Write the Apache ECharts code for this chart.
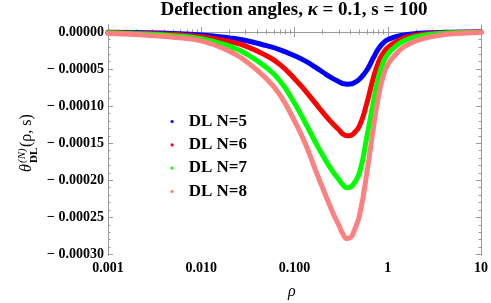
<!DOCTYPE html>
<html><head><meta charset="utf-8">
<script src="https://cdn.jsdelivr.net/npm/echarts@6/dist/echarts.min.js"></script>
<style>html,body{margin:0;padding:0;background:#fff}#c{width:491px;height:303px}</style>
</head><body><div id="c"></div>
<script>
// rho sample points (log axis)
const rho = [0.001,0.002,0.005,0.01,0.02,0.03,0.05,0.07,0.1,0.13,0.17,0.2,0.25,0.3,0.33,0.366,0.4,0.43,0.5,0.6,0.7,0.8,0.9,1,1.2,1.5,2,3,5,10];
const dlN5 = [-0.3e-6,-0.8e-6,-2e-6,-4e-6,-8e-6,-11.5e-6,-18.5e-6,-24e-6,-32e-6,-39e-6,-48e-6,-54e-6,-62e-6,-67e-6,-69.5e-6,-70.5e-6,-70.3e-6,-69e-6,-63.5e-6,-51e-6,-35e-6,-22e-6,-14.5e-6,-10.5e-6,-6.5e-6,-4e-6,-2.2e-6,-1e-6,-0.4e-6,-0.1e-6];
const dlN6 = [-0.8e-6,-1.6e-6,-3.5e-6,-6.5e-6,-13e-6,-19e-6,-32e-6,-44e-6,-63e-6,-79e-6,-97e-6,-108e-6,-122e-6,-132e-6,-137.5e-6,-140e-6,-139.5e-6,-137e-6,-126e-6,-95e-6,-62e-6,-40e-6,-28e-6,-21e-6,-14e-6,-8e-6,-4.5e-6,-2e-6,-0.8e-6,-0.2e-6];
const dlN7 = [-1.2e-6,-2.5e-6,-5e-6,-9e-6,-19e-6,-29e-6,-48e-6,-66e-6,-96e-6,-122e-6,-150e-6,-166e-6,-186e-6,-199e-6,-206e-6,-210e-6,-209e-6,-205e-6,-189e-6,-140e-6,-95e-6,-60e-6,-40e-6,-30e-6,-20e-6,-12e-6,-6.5e-6,-3e-6,-1.2e-6,-0.3e-6];
const dlN8 = [-2e-6,-3.5e-6,-7e-6,-12e-6,-26e-6,-39e-6,-63e-6,-85e-6,-120e-6,-150e-6,-188e-6,-210e-6,-240e-6,-261e-6,-272e-6,-278.5e-6,-277e-6,-270e-6,-246e-6,-188e-6,-130e-6,-85e-6,-58e-6,-44e-6,-31e-6,-20e-6,-12e-6,-6e-6,-2.5e-6,-0.8e-6];

const seriesNames = ['DL N=5','DL N=6','DL N=7','DL N=8'];
const seriesColors = ['#0000ff','#ff0000','#00ff00','#ff8080'];

const xTicks = [0.001,0.01,0.1,1,10];
const xTickLabels = ['0.001','0.010','0.100','1','10'];
const yTicks = [0,-0.00005,-0.0001,-0.00015,-0.0002,-0.00025,-0.0003];
const yTickLabels = ['0.00000','\u2212 0.00005','\u2212 0.00010','\u2212 0.00015','\u2212 0.00020','\u2212 0.00025','\u2212 0.00030'];

const xMinor = [];
for (const d of [0.001,0.01,0.1,1]) for (let k=2;k<=9;k++) xMinor.push(+(d*k).toPrecision(3));
const yMinor = [];
for (let i=0;i<=30;i++) if (i%5) yMinor.push(-i*1e-5);

const FONT = 'Liberation Serif';
const frameColor = '#9a9a9a';
const XMIN=0.001, XMAX=10, YMIN=-0.0003007, YMAX=0.0000094;

function xAx(pos, ticks, len, labels){
  return {type:'log', logBase:10, min:XMIN, max:XMAX, position:pos, gridIndex:0,
    axisLine:{show:true, lineStyle:{color:frameColor,width:1}},
    axisTick:{show:true, inside:true, length:len, customValues:ticks, lineStyle:{color:frameColor}},
    axisLabel: labels ? {show:true, customValues:xTicks, margin:6, fontFamily:FONT, fontWeight:'bold', fontSize:14, color:'#000',
      formatter:(v)=>{let b=0,bd=1e9; xTicks.forEach((t,i)=>{const d=Math.abs(Math.log10(t)-Math.log10(v)); if(d<bd){bd=d;b=i;}}); return xTickLabels[b];}} : {show:false},
    splitLine:{show:false}, minorTick:{show:false}};
}
function yAx(pos, ticks, len, labels){
  return {type:'value', min:YMIN, max:YMAX, position:pos, gridIndex:0,
    axisLine:{show:true, lineStyle:{color:frameColor,width:1}},
    axisTick:{show:true, inside:true, length:len, customValues:ticks, lineStyle:{color:frameColor}},
    axisLabel: labels ? {show:true, customValues:yTicks, margin:4, fontFamily:FONT, fontWeight:'bold', fontSize:14, color:'#000',
      formatter:(v)=>{let b=0,bd=1e9; yTicks.forEach((t,i)=>{const d=Math.abs(t-v); if(d<bd){bd=d;b=i;}}); return yTickLabels[b];}} : {show:false},
    splitLine:{show:false}};
}

const chart = echarts.init(document.getElementById('c'), null, {renderer:'canvas'});
chart.setOption({
  animation:false,
  backgroundColor:'#fff',
  title:{text:'{b|Deflection angles, }{k|\u03ba}{b| = 0.1, s = 100}', left:294, top:1, padding:0, textAlign:'center',
    textStyle:{rich:{b:{fontFamily:FONT,fontWeight:'bold',fontSize:19,color:'#000'},k:{fontFamily:FONT,fontStyle:'italic',fontSize:19,color:'#000'}}}},
  grid:{left:108, top:25, width:374, height:230, containLabel:false},
  xAxis:[xAx('bottom',xTicks,5,true), xAx('bottom',xMinor,2.5,false), xAx('top',xTicks,5,false), xAx('top',xMinor,2.5,false)],
  yAxis:[yAx('left',yTicks,5,true), yAx('left',yMinor,2.5,false), yAx('right',yTicks,5,false), yAx('right',yMinor,2.5,false)],
  legend:{orient:'vertical', left:165.5, top:107.5, itemWidth:3.2, itemHeight:3.2, itemGap:5.3, icon:'circle',
    itemStyle:{borderWidth:0},
    data:seriesNames,
    textStyle:{fontFamily:FONT, fontWeight:'bold', fontSize:17, lineHeight:18, color:'#000', padding:[0,0,0,10]}},
  series:[dlN5,dlN6,dlN7,dlN8].map((arr,i)=>({
    name:seriesNames[i], type:'line', xAxisIndex:0, yAxisIndex:0,
    data: rho.map((r,j)=>[r,arr[j]]),
    showSymbol:false, symbol:'circle', smooth:0.5, sampling:null,
    itemStyle:{color:seriesColors[i], borderWidth:0},
    lineStyle:{color:seriesColors[i], width:5, join:'round', cap:'round'}, z:2+i
  })),
  graphic:[
    {type:'text', left:288, top:284, style:{text:'\u03c1', fontFamily:FONT, fontStyle:'italic', fontSize:16, fill:'#000'}},
    {type:'group', x:35, y:172, rotation:Math.PI/2, children:[
      {type:'text', x:0, y:0, style:{text:'\u03b8', fontFamily:FONT, fontStyle:'italic', fontSize:16, fill:'#000', textVerticalAlign:'bottom'}},
      {type:'text', x:9, y:-7, style:{text:'(N)', fontFamily:FONT, fontStyle:'italic', fontSize:11, fill:'#000', textVerticalAlign:'bottom'}},
      {type:'text', x:9, y:5, style:{text:'DL', fontFamily:FONT, fontWeight:'bold', fontSize:11, fill:'#000', textVerticalAlign:'bottom'}},
      {type:'text', x:25, y:0, style:{text:'(\u03c1, s)', fontFamily:FONT, fontSize:16, fill:'#000', textVerticalAlign:'bottom'}}
    ]}
  ]
});
</script></body></html>
